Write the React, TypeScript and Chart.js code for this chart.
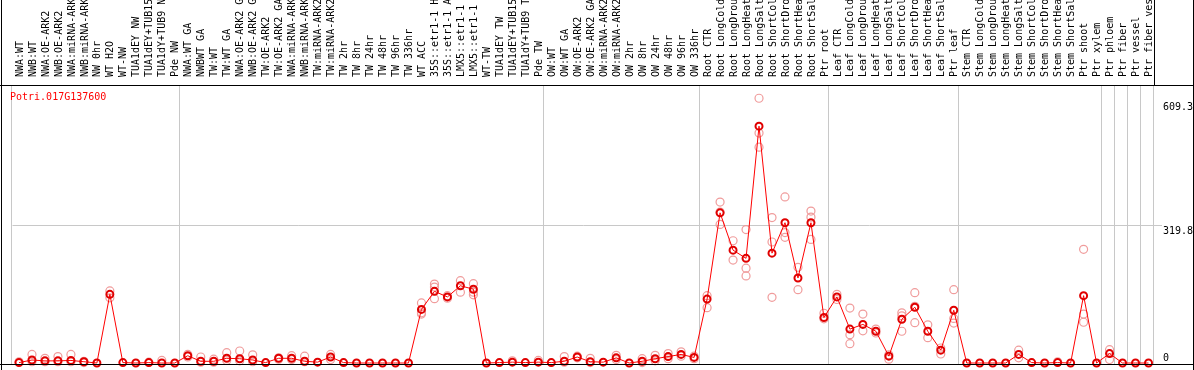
import React, { useEffect, useRef } from 'react';
import { Chart, registerables } from 'chart.js';

Chart.register(...registerables);

const GENE = 'Potri.017G137600';
const FONT = '"DejaVu Sans Mono", monospace';

const labels = [
  'NWA:WT', 'NWB:WT', 'NWA:OE-ARK2', 'NWB:OE-ARK2', 'NWA:miRNA-ARK2', 'NWB:miRNA-ARK2', 'NW 0hr', 'WT H2O', 'WT-NW',
  'TUA1dEY NW', 'TUA1dEY+TUB15 NW', 'TUA1dY+TUB9 NW', 'Pde NW',
  'NWA:WT GA', 'NWBWT GA', 'TW:WT', 'TW:WT GA', 'NWA:OE-ARK2 GA', 'NWB:OE-ARK2 GA', 'TW:OE-ARK2', 'TW:OE-ARK2 GA',
  'NWA:miRNA-ARK2 GA', 'NWB:miRNA-ARK2 GA', 'TW:miRNA-ARK2', 'TW:miRNA-ARK2 GA',
  'TW 2hr', 'TW 8hr', 'TW 24hr', 'TW 48hr', 'TW 96hr', 'TW 336hr', 'WT ACC',
  '35S::etr1-1 H2O', '35S::etr1-1 ACC', 'LMX5::etr1-1 H2O', 'LMX5::etr1-1 ACC', 'WT-TW',
  'TUA1dEY TW', 'TUA1dEY+TUB15 TW', 'TUA1dY+TUB9 TW', 'Pde TW',
  'OW:WT', 'OW:WT GA', 'OW:OE-ARK2', 'OW:OE-ARK2 GA', 'OW:miRNA-ARK2', 'OW:miRNA-ARK2 GA',
  'OW 2hr', 'OW 8hr', 'OW 24hr', 'OW 48hr', 'OW 96hr', 'OW 336hr',
  'Root CTR', 'Root LongCold', 'Root LongDrought', 'Root LongHeat', 'Root LongSalt',
  'Root ShortCold', 'Root ShortDrought', 'Root ShortHeat', 'Root ShortSalt', 'Ptr root',
  'Leaf CTR', 'Leaf LongCold', 'Leaf LongDrought', 'Leaf LongHeat', 'Leaf LongSalt',
  'Leaf ShortCold', 'Leaf ShortDrought', 'Leaf ShortHeat', 'Leaf ShortSalt', 'Ptr leaf',
  'Stem CTR', 'Stem LongCold', 'Stem LongDrought', 'Stem LongHeat', 'Stem LongSalt',
  'Stem ShortCold', 'Stem ShortDrought', 'Stem ShortHeat', 'Stem ShortSalt', 'Ptr shoot', 'Ptr xylem',
  'Ptr phloem', 'Ptr fiber', 'Ptr vessel', 'Ptr fiber vessel',
];

const n = null;

const means = [
  1, 7, 5, 5, 6, 3, 0, 160, 1, 0, 1, 0, 0,
  17, 4, 4, 11, 10, 7, 1, 11, 11, 4, 2, 14, 1, 0, 0, 0, 0, 0, 125, 167, 154, 180, 172, 0, 1, 2, 1, 2,
  1, 4, 14, 3, 2, 12, 0, 4, 10, 15, 20, 13,
  149, 350, 263, 244, 552, 256, 327, 198, 327, 106,
  154, 79, 90, 74, 16, 102, 130, 74, 30, 123,
  0, 0, 0, 0, 20, 1, 0, 1, 0, 157, 0,
  22, 0, 0, 0,
];

const rep1 = [
  3, 20, 11, 15, 20, 4, n, 168, n, n, 2, 6, n,
  20, 14, 9, 24, 28, 19, n, 12, 17, 16, n, 20, n, n, n, n, n, n, 140, 184, 157, 192, 185, n, n, 5, n, 6,
  n, 15, 16, 11, n, 18, n, 10, 18, 22, 26, 16,
  157, 375, 285, 311, 617, 339, 387, 223, 354, 116,
  160, 128, 114, 79, 19, 117, 164, 89, 35, 171,
  n, n, n, n, 30, n, n, 3, n, 265, n,
  31, n, n, n,
];

const rep2 = [
  n, 3, 3, 3, 3, 1, n, 152, n, n, n, n, n,
  14, 2, 2, 6, 5, 3, n, 9, 8, 3, n, 8, n, n, n, n, n, n, 117, 150, 151, 165, 159, n, n, n, n, n,
  n, 2, 12, 1, n, 8, n, 1, 5, 10, 16, 10,
  129, 323, 240, 221, 536, 282, 304, 171, 340, 103,
  148, 45, 75, 70, 9, 110, 94, 59, 21, 104,
  n, n, n, n, 12, n, n, n, n, 114, n,
  8, n, n, n,
];

const rep3 = [
  n, n, n, n, n, n, n, n, n, n, n, n, n,
  n, n, n, n, n, n, n, n, n, n, n, n, n, n, n, n, n, n, 114, 177, n, n, 165, n, n, n, n, n,
  n, n, n, n, n, n, n, n, n, n, n, n,
  n, 352, n, 203, 503, 153, 293, n, 288, n,
  n, 66, n, n, n, 74, 132, n, n, 93,
  n, n, n, n, n, n, n, n, n, 95, n,
  n, n, n, n,
];

// index of the first column of each group (a grid line is drawn at its left edge)
const groupStarts = [0, 13, 41, 53, 63, 73, 84, 85, 86, 87, 88];
const GRID_SHIFT = 1.5 / 13; // grid lines sit slightly left of the cell edge
const yTicks = [0, 319.8, 609.3];
const Y_MIN = -2.3;
const Y_MAX = 645.6;

const GRID = '#c8c8c8';
const REP_COLOR = '#f09c9c';

export default function App() {
  const ref = useRef<HTMLCanvasElement | null>(null);

  useEffect(() => {
    document.body.style.margin = '0';
    if (!ref.current) return;

    const deco = {
      id: 'deco',
      afterDraw(chart: any) {
        const { ctx, chartArea, width, height } = chart;
        const ys = chart.scales.y;
        ctx.save();
        ctx.font = `10px ${FONT}`;
        ctx.textAlign = 'left';
        ctx.textBaseline = 'alphabetic';
        ctx.fillStyle = '#ff0000';
        ctx.fillText(GENE, 10, chartArea.top + 14);
        ctx.fillStyle = '#000000';
        yTicks.forEach((v) => {
          const p = ys.getPixelForValue(v);
          const txt = v === 0 ? '0' : v.toFixed(1);
          ctx.fillText(txt, chartArea.right + 8, v === 0 ? p - 2 : p + 8);
        });
        // frame
        ctx.fillRect(0, Math.round(chartArea.top) - 1, width, 1);
        ctx.fillRect(0, Math.round(chartArea.bottom), width, 1);
        ctx.fillRect(1, 0, 1, height);
        ctx.fillRect(width - 1, 0, 1, height);
        ctx.fillRect(Math.round(chartArea.right) - 1, 0, 1, chartArea.top);
        ctx.restore();
      },
    };

    const repDs = (label: string, data: (number | null)[]) => ({
      label,
      data,
      showLine: false,
      pointStyle: 'circle',
      pointRadius: 4,
      pointBorderWidth: 1.2,
      pointBorderColor: REP_COLOR,
      pointBackgroundColor: 'rgba(0,0,0,0)',
      borderColor: REP_COLOR,
      clip: false,
      order: 1,
    });

    const chart = new Chart(ref.current, {
      type: 'line',
      data: {
        labels,
        datasets: [
          {
            label: 'mean',
            data: means,
            borderColor: '#ff0000',
            borderWidth: 1,
            tension: 0,
            pointStyle: 'circle',
            pointRadius: 3.5,
            pointBorderWidth: 2,
            pointBorderColor: '#e00000',
            pointBackgroundColor: 'rgba(0,0,0,0)',
            clip: false,
            order: 0,
          },
          repDs('rep1', rep1),
          repDs('rep2', rep2),
          repDs('rep3', rep3),
        ],
      },
      options: {
        animation: false,
        responsive: true,
        maintainAspectRatio: false,
        events: [],
        layout: { padding: { left: 12.5, right: 0, top: 0, bottom: 1 } },
        plugins: {
          legend: { display: false },
          tooltip: { enabled: false },
          title: { display: false },
        },
        scales: {
          x: {
            type: 'category',
            position: 'top',
            offset: true,
            border: { display: false },
            grid: { display: false },
            ticks: {
              autoSkip: false,
              minRotation: 90,
              maxRotation: 90,
              padding: 1,
              labelOffset: 13,
              color: '#000000',
              font: { family: FONT, size: 10 },
            },
            afterFit: (s: any) => {
              s.height = 86;
            },
          },
          xg: {
            type: 'linear',
            position: 'bottom',
            min: -0.5,
            max: labels.length - 0.5,
            border: { display: false },
            afterBuildTicks: (s: any) => {
              s.ticks = groupStarts.map((g) => ({ value: g - 0.5 - GRID_SHIFT }));
            },
            grid: { drawTicks: false, color: GRID, lineWidth: 1 },
            ticks: { display: false },
            afterFit: (s: any) => {
              s.height = 0;
            },
          },
          y: {
            type: 'linear',
            position: 'right',
            min: Y_MIN,
            max: Y_MAX,
            border: { display: false },
            afterBuildTicks: (s: any) => {
              s.ticks = yTicks.map((v) => ({ value: v }));
            },
            grid: {
              drawTicks: true,
              tickLength: 7,
              lineWidth: 1,
              color: (c: any) => (c.tick && c.tick.value === 319.8 ? GRID : 'rgba(0,0,0,0)'),
            },
            ticks: { display: false },
            afterFit: (s: any) => {
              s.width = 39;
            },
          },
        },
      },
      plugins: [deco],
    });

    return () => chart.destroy();
  }, []);

  return (
    <div style={{ width: 1194, height: 370, position: 'relative', background: '#ffffff' }}>
      <canvas ref={ref} />
    </div>
  );
}
